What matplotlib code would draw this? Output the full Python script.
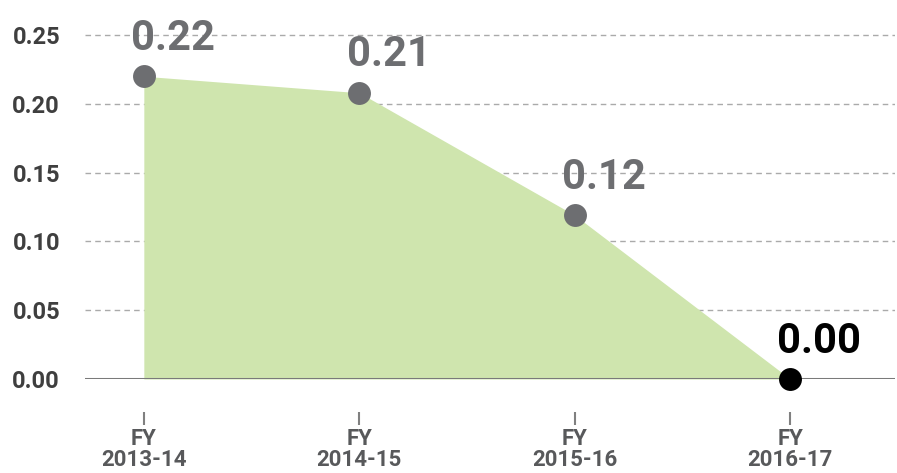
import matplotlib
matplotlib.use("Agg")
import matplotlib.pyplot as plt

categories = ["FY\n2013-14", "FY\n2014-15", "FY\n2015-16", "FY\n2016-17"]
values = [0.22, 0.208, 0.119, 0.0]
labels = ["0.22", "0.21", "0.12", "0.00"]
yticks = [0.00, 0.05, 0.10, 0.15, 0.20, 0.25]

fig = plt.figure(figsize=(8.97, 4.73), dpi=100)
ax = fig.add_axes([85/897, 94/473, 810/897, 379/473])
ax.spines["bottom"].set_position(("outward", 24))
for s in ax.spines.values():
    s.set_visible(False)
x = list(range(len(values)))

ax.fill_between(x, values, 0, color="#cfe5ae", linewidth=0, zorder=1)
for yt in yticks[1:]:
    ax.axhline(yt, color="#aaaaaa", linewidth=1, linestyle=(0, (4, 3)), zorder=0)
ax.axhline(0, color="#7a7a7a", linewidth=2.2, zorder=2)

colors = ["#6d6e71"] * (len(values) - 1) + ["#000000"]
for xi, v, c, lab in zip(x, values, colors, labels):
    ax.plot([xi], [v], "o", color=c, markersize=16.5, markeredgewidth=0, zorder=4, clip_on=False)
    ax.annotate(lab, (xi, v), xytext=(21, 19), textcoords="offset points",
                ha="center", va="baseline", fontsize=30, fontweight="bold",
                color=c, family=["Roboto", "DejaVu Sans"], zorder=5)

ax.set_xlim(-0.273, 3.486)
ax.set_ylim(0, 0.2754)
ax.set_yticks(yticks)
ax.set_yticklabels([f"{t:.2f}" for t in yticks], fontsize=17, fontweight="bold",
                   color="#3f3f3f", family=["Roboto", "DejaVu Sans"])
ax.tick_params(axis="y", length=0, pad=18)
ax.set_xticks(x)
ax.set_xticklabels(categories, fontsize=16, fontweight="bold", color="#58595b",
                   family=["Roboto", "DejaVu Sans"], linespacing=0.95)
ax.tick_params(axis="x", length=9, width=1.5, color="#808080", direction="out", pad=2)

fig.savefig("out.png", dpi=100)
